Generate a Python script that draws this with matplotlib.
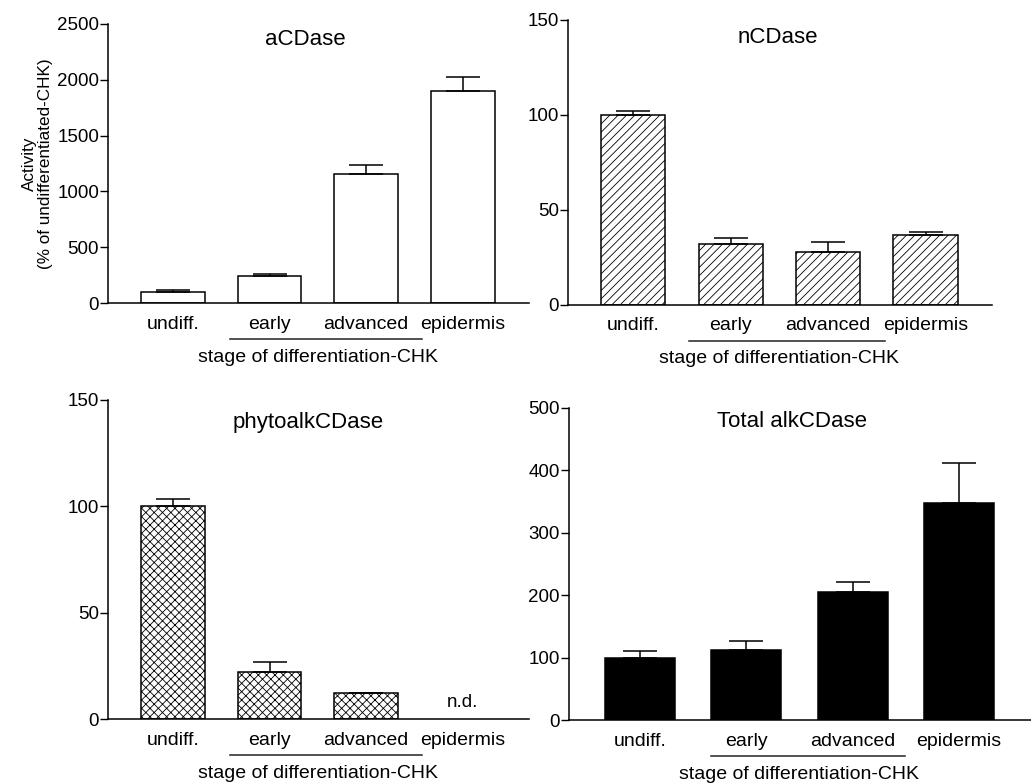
import matplotlib.pyplot as plt
import matplotlib.transforms as mtransforms

plt.rcParams['font.family'] = ['Liberation Sans', 'DejaVu Sans']

# categories
stages = ['undiff.', 'early', 'advanced', 'epidermis']

# aCDase
a_vals = [100, 240, 1160, 1900]
a_err = [20, 22, 80, 125]
# nCDase
n_vals = [100, 32, 28, 37]
n_err = [2, 3, 5, 1.5]
# phytoalkCDase (epidermis not detected)
p_vals = [100, 22, 12]
p_err = [3.5, 5, 0.3]
# Total alkCDase
t_vals = [100, 113, 205, 347]
t_err = [10, 13, 16, 65]

fig = plt.figure(figsize=(10.31, 7.84), dpi=100)

ax1 = fig.add_axes([0.1048, 0.6135, 0.408, 0.3559])
ax2 = fig.add_axes([0.551, 0.611, 0.411, 0.3635])
ax3 = fig.add_axes([0.1048, 0.0829, 0.408, 0.4069])
ax4 = fig.add_axes([0.5519, 0.0816, 0.4481, 0.398])

plt.rcParams['hatch.linewidth'] = 0.6


def style(ax, ymax, step, title, tx, ty, ul):
    ax.spines['top'].set_visible(False)
    ax.spines['right'].set_visible(False)
    ax.spines['left'].set_linewidth(1.1)
    ax.spines['bottom'].set_linewidth(1.1)
    ax.set_xlim(-0.67, 3.68)
    ax.set_ylim(0, ymax)
    ax.set_yticks(range(0, ymax + 1, step))
    ax.tick_params(axis='y', length=5.5, width=1, labelsize=13.5, pad=1)
    ax.set_xticks(range(4))
    ax.set_xticklabels(stages)
    ax.tick_params(axis='x', length=0, labelsize=14, pad=9)
    ax.text(tx, ty, title, transform=ax.transAxes, ha='center', va='center', fontsize=16)
    # line under early/advanced
    tr = ax.get_xaxis_transform() + mtransforms.ScaledTranslation(0, -0.36, fig.dpi_scale_trans)
    ax.plot(ul, [0, 0], color='#222222', lw=1.1, transform=tr, clip_on=False)
    tr2 = ax.get_xaxis_transform() + mtransforms.ScaledTranslation(0, -0.54, fig.dpi_scale_trans)
    ax.text(1.5, 0, 'stage of differentiation-CHK', transform=tr2, ha='center', va='center', fontsize=14)


def bars(ax, vals, err, **kw):
    x = list(range(len(vals)))
    ax.bar(x, vals, width=0.66, edgecolor='black', linewidth=1.1,
           yerr=[[0] * len(vals), err], capsize=12,
           error_kw=dict(elinewidth=1.1, capthick=1.1, ecolor='black'), **kw)


bars(ax1, a_vals, a_err, color='white')
style(ax1, 2500, 500, 'aCDase', 0.468, 0.946, [0.59, 2.58])
ax1.set_ylabel('Activity\n(% of undifferentiated-CHK)', fontsize=12.3, labelpad=3, linespacing=1.1)

bars(ax2, n_vals, n_err, color='white', hatch='////')
style(ax2, 150, 50, 'nCDase', 0.495, 0.937, [0.57, 2.58])

bars(ax3, p_vals, p_err, color='white', hatch='xxxx')
style(ax3, 150, 50, 'phytoalkCDase', 0.475, 0.931, [0.59, 2.58])
tr3 = ax3.transData + mtransforms.ScaledTranslation(0, 0.17, fig.dpi_scale_trans)
ax3.text(3, 0, 'n.d.', transform=tr3, ha='center', va='center', fontsize=13.5)

bars(ax4, t_vals, t_err, color='black')
style(ax4, 500, 100, 'Total alkCDase', 0.483, 0.958, [0.67, 2.49])

fig.savefig('out.png', dpi=100)
